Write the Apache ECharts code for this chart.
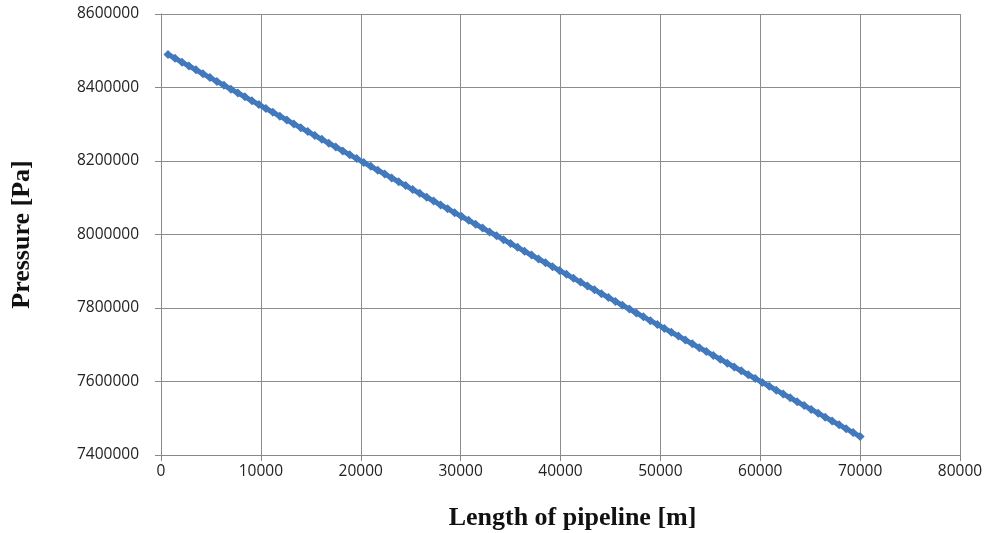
<!DOCTYPE html>
<html>
<head>
<meta charset="utf-8">
<script src="https://cdn.jsdelivr.net/npm/echarts@6/dist/echarts.min.js"></script>
<style>
  html, body { margin: 0; padding: 0; background: #fff; }
  #chart { width: 995px; height: 533px; }
</style>
</head>
<body>
<div id="chart"></div>
<script>
// pipeline length [m]
const lengths = [
  700, 1400, 2100, 2800, 3500, 4200, 4900, 5600, 6300, 7000,
  7700, 8400, 9100, 9800, 10500, 11200, 11900, 12600, 13300, 14000,
  14700, 15400, 16100, 16800, 17500, 18200, 18900, 19600, 20300, 21000,
  21700, 22400, 23100, 23800, 24500, 25200, 25900, 26600, 27300, 28000,
  28700, 29400, 30100, 30800, 31500, 32200, 32900, 33600, 34300, 35000,
  35700, 36400, 37100, 37800, 38500, 39200, 39900, 40600, 41300, 42000,
  42700, 43400, 44100, 44800, 45500, 46200, 46900, 47600, 48300, 49000,
  49700, 50400, 51100, 51800, 52500, 53200, 53900, 54600, 55300, 56000,
  56700, 57400, 58100, 58800, 59500, 60200, 60900, 61600, 62300, 63000,
  63700, 64400, 65100, 65800, 66500, 67200, 67900, 68600, 69300, 70000
];
// pressure [Pa]
const pressures = [
  8490000, 8479500, 8469000, 8458500, 8448000, 8437500, 8427000, 8416500, 8406000, 8395500,
  8385000, 8374500, 8364000, 8353500, 8343000, 8332500, 8322000, 8311500, 8301000, 8290500,
  8280000, 8269500, 8259000, 8248500, 8238000, 8227500, 8217000, 8206500, 8196000, 8185500,
  8175000, 8164500, 8154000, 8143500, 8133000, 8122500, 8112000, 8101500, 8091000, 8080500,
  8070000, 8059500, 8049000, 8038500, 8028000, 8017500, 8007000, 7996500, 7986000, 7975500,
  7965000, 7954500, 7944000, 7933500, 7923000, 7912500, 7902000, 7891500, 7881000, 7870500,
  7860000, 7849500, 7839000, 7828500, 7818000, 7807500, 7797000, 7786500, 7776000, 7765500,
  7755000, 7744500, 7734000, 7723500, 7713000, 7702500, 7692000, 7681500, 7671000, 7660500,
  7650000, 7639500, 7629000, 7618500, 7608000, 7597500, 7587000, 7576500, 7566000, 7555500,
  7545000, 7534500, 7524000, 7513500, 7503000, 7492500, 7482000, 7471500, 7461000, 7450500
];

const chart = echarts.init(document.getElementById('chart'));

const axisLabelStyle = {
  color: '#222',
  fontSize: 15.5,
  fontFamily: 'Open Sans',
  formatter: function (v) { return String(v); }  // no thousand separators
};
const titleStyle = {
  color: '#111',
  fontSize: 26,
  fontWeight: 'bold',
  fontFamily: 'Liberation Serif'
};

let option = {
  animation: false,
  grid: {
    left: 161,
    right: 35,
    top: 14,
    bottom: 78,
    outerBoundsMode: 'none'
  },
  xAxis: {
    type: 'value',
    min: 0,
    max: 80000,
    interval: 10000,
    name: 'Length of pipeline [m]',
    nameLocation: 'middle',
    nameGap: 50,
    nameTextStyle: Object.assign({ padding: [0, 0, 0, 24] }, titleStyle),
    axisLine: { lineStyle: { color: '#888' } },
    axisTick: { show: true, length: 6, lineStyle: { color: '#888' } },
    axisLabel: Object.assign({ margin: 9 }, axisLabelStyle),
    splitLine: { show: true, lineStyle: { color: '#8c8c8c', width: 1 } }
  },
  yAxis: {
    type: 'value',
    min: 7400000,
    max: 8600000,
    interval: 200000,
    name: 'Pressure [Pa]',
    nameLocation: 'middle',
    nameGap: 126,
    nameRotate: 90,
    nameTextStyle: titleStyle,
    axisLine: { show: true, lineStyle: { color: '#888' } },
    axisTick: { show: true, length: 6, lineStyle: { color: '#888' } },
    axisLabel: Object.assign({ margin: 22 }, axisLabelStyle),
    splitLine: { show: true, lineStyle: { color: '#8c8c8c', width: 1 } }
  },
  series: [{
    type: 'line',
    data: lengths.map((x, i) => [x, pressures[i]]),
    symbol: 'diamond',
    symbolSize: 9,
    showSymbol: true,
    lineStyle: { color: '#4279bd', width: 5 },
    itemStyle: { color: '#4279bd' }
  }]
};

chart.setOption(option);
</script>
</body>
</html>
